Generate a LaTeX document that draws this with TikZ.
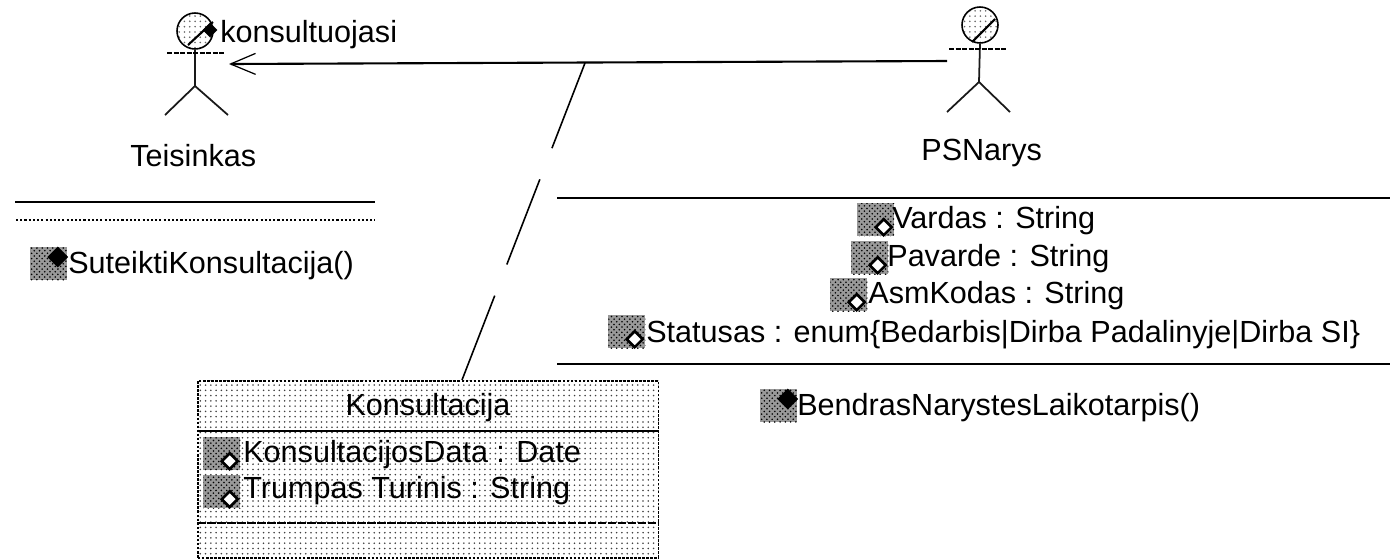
\documentclass[tikz,border=0pt]{standalone}
\usepackage{fontspec}
\setmainfont{Liberation Sans}
\usepackage{tikz}
\usetikzlibrary{arrows.meta,positioning,patterns,shapes.geometric}

\begin{document}
\begin{tikzpicture}[
  x=0.02cm, y=-0.02cm,
  lbl/.style={anchor=base west, inner sep=0pt, font=\fontsize{17.4}{20}\selectfont},
  ctr/.style={anchor=base, inner sep=0pt, font=\fontsize{17.4}{20}\selectfont},
  head/.style={draw, circle, minimum size=0.72cm, inner sep=0pt, line width=0.9pt, pattern=dots, pattern color=black!60},
  body/.style={line width=1pt, color=black!90},
  arm/.style={line width=0.9pt, dash pattern=on 3pt off 0.7pt},
  rule/.style={line width=1.1pt},
  thin rule/.style={line width=0.8pt, dash pattern=on 1.2pt off 1.2pt},
  assoc/.style={-{Straight Barb[length=0.5cm, width=0.42cm, line width=0.7pt]}, line width=1.2pt},
  link/.style={line width=0.9pt, dash pattern=on 52pt off 19pt},
  cbox/.style={draw, rectangle, minimum width=9.22cm, minimum height=3.54cm, inner sep=0pt, line width=0.9pt, dash pattern=on 1.5pt off 0.8pt, pattern=dots, pattern color=black!75},
  icon/.style={rectangle, minimum width=0.74cm, minimum height=0.66cm, inner sep=0pt, preaction={fill=black!40}, pattern=crosshatch dots, pattern color=black},
  attrmark/.style={draw, diamond, fill=white, minimum size=0.34cm, inner sep=0pt, line width=1.5pt, xshift=-0.22cm, yshift=0.19cm},
  opmark/.style={draw, diamond, fill=black, minimum size=0.4cm, inner sep=0pt, line width=0.5pt, xshift=-0.2cm, yshift=-0.2cm},
]
\useasboundingbox (0,0) rectangle (1390,559);

% ─── Actor Teisinkas (left) ───
\node[head] (theadn) at (195,31) {};
\draw[line width=1.2pt] (188,45) -- (213,22);
\coordinate (thip) at (195,86);
\coordinate (tlegl) at (165,115);
\coordinate (tlegr) at (228,115);
\coordinate (tarml) at (167,53);
\coordinate (tarmr) at (224,53);
\coordinate (tend) at (229,64);
\draw[body] (theadn.south) -- (thip);
\draw[body] (thip) -- (tlegl);
\draw[body] (thip) -- (tlegr);
\draw[arm] (tarml) -- (tarmr);
\node[diamond, fill=black, minimum size=0.3cm, inner sep=0pt] (tmark) at (210,30) {};
\node[lbl] (konsult) at (220,42) {konsultuojasi};
\node[lbl] (teis) at (130,166) {Teisinkas};

% ─── Actor PSNarys (right) ───
\node[head] (pheadn) at (980,25) {};
\draw[line width=1.2pt] (972,42) -- (995,19);
\coordinate (phip) at (979,82);
\coordinate (plegl) at (947,112);
\coordinate (plegr) at (1010,112);
\coordinate (parml) at (949,49);
\coordinate (parmr) at (1007,49);
\coordinate (pstart) at (947,61);
\draw[body] (pheadn.south) -- (phip);
\draw[body] (phip) -- (plegl);
\draw[body] (phip) -- (plegr);
\draw[arm] (parml) -- (parmr);
\node[lbl] (psn) at (921,160) {PSNarys};

% ─── Teisinkas compartments ───
\draw[rule] (15,202) -- (375,202);
\draw[thin rule] (16,220) -- (375,220);
\node[icon, anchor=north west] (sicon) at (30,247) {};
\node[opmark] at (sicon.north east) {};
\node[lbl] (sutk) at (68,273) {SuteiktiKonsultacija()};

% ─── PSNarys compartments ───
\draw[rule] (557,198) -- (1390,198);
\node[icon, anchor=north west] (vicon) at (857,203) {};
\node[attrmark] at (vicon.south east) {};
\node[lbl] (vard) at (892,228) {Vardas : String};
\node[icon, anchor=north west] (picon) at (851,241) {};
\node[attrmark] at (picon.south east) {};
\node[lbl] (pav) at (887,266) {Pavarde : String};
\node[icon, anchor=north west] (aicon) at (830,278) {};
\node[attrmark] at (aicon.south east) {};
\node[lbl] (asm) at (868,303) {AsmKodas : String};
\node[icon, anchor=north west] (sticon) at (608,315) {};
\node[attrmark] at (sticon.south east) {};
\node[lbl] (stat) at (646,342) {Statusas : enum\{Bedarbis|Dirba Padalinyje|Dirba SI\}};
\draw[rule] (557,364) -- (1390,364);
\node[icon, anchor=north west] (bicon) at (760,389) {};
\node[opmark] at (bicon.north east) {};
\node[lbl] (bend) at (797,415) {BendrasNarystesLaikotarpis()};

% ─── Association class ───
\node[cbox, anchor=north west] (kbox) at (197,380) {};
\node[ctr] (ktitle) at (428,415) {Konsultacija};
\draw[rule] (197,431) -- (658,431);
\node[icon, anchor=north west] (kicon) at (203,437) {};
\node[attrmark] at (kicon.south east) {};
\node[lbl] (kdata) at (243,462) {KonsultacijosData : Date};
\node[icon, anchor=north west] (ticon) at (203,475) {};
\node[attrmark] at (ticon.south east) {};
\node[lbl] (ttur) at (243,498) {Trumpas Turinis : String};
\draw[rule, dash pattern=on 5pt off 0.7pt] (197,523) -- (658,523);

% ─── Connectors ───
\draw[assoc] (pstart) -- (tend);
\coordinate (ajoin) at (585,63);
\coordinate (ktop) at (462,380);
\draw[link] (ajoin) -- (ktop);

\end{tikzpicture}
\end{document}
